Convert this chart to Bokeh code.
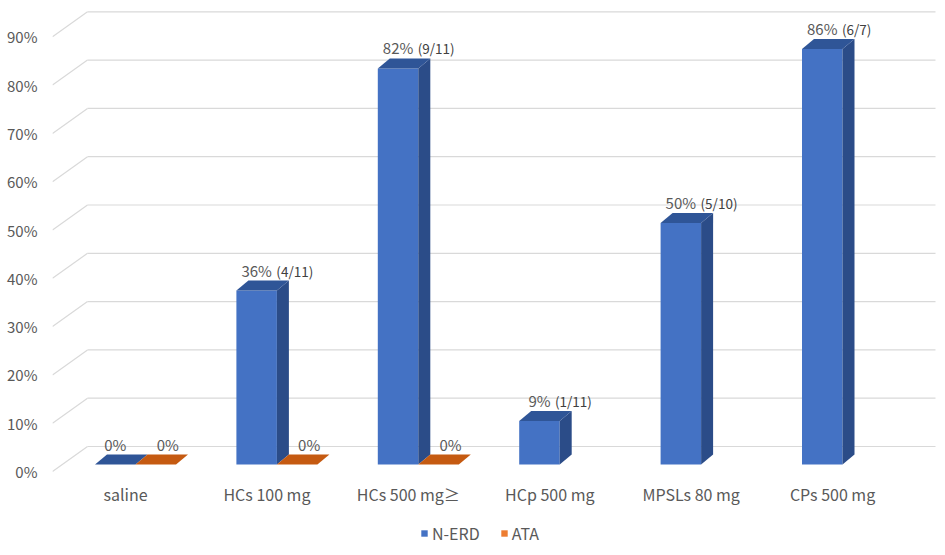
from bokeh.plotting import figure
from bokeh.models import (ColumnDataSource, FixedTicker, NumeralTickFormatter,
                          Legend, LegendItem, Range1d)
from bokeh.core.properties import value
from bokeh.embed import file_html
from bokeh.resources import INLINE

# ---------------- data ----------------
categories = ["saline", "HCs 100 mg", "HCs 500 mg≥", "HCp 500 mg", "MPSLs 80 mg", "CPs 500 mg"]
nerd = [0.0, 0.36, 0.82, 0.09, 0.50, 0.86]
ata = [0.0, 0.0, 0.0, None, None, None]
fractions = ["", "(4/11)", "(9/11)", "(1/11)", "(5/10)", "(6/7)"]
y_ticks = [0.0, 0.1, 0.2, 0.3, 0.4, 0.5, 0.6, 0.7, 0.8, 0.9]
series_names = ["N-ERD", "ATA"]

# ---------------- styling / geometry ----------------
FONT = "Noto Sans CJK JP"
TXT = "#595959"
GRID = "#d9d9d9"
BLUE_FRONT, BLUE_SIDE, BLUE_TOP = "#4472C4", "#2B4C88", "#2F5597"
ORG_FRONT, ORG_SIDE, ORG_TOP = "#ED7D31", "#A84C0E", "#C55A11"

W, H = 945, 555
B_LEFT, B_RIGHT, B_TOP = 52, 8, 8
PX_X = 141.4          # pixels per category
PX_Y = 483.0          # pixels per 100 %
FRAME_W, FRAME_H = W - B_LEFT - B_RIGHT, H - B_TOP
ZERO_FROM_BOTTOM = 84  # px between frame bottom and the 0 % front line
BW = 40.5 / PX_X      # bar width
DDX, DDY = 12 / PX_X, 10 / PX_Y     # bar depth (oblique)
FDX, FDY = 35 / PX_X, 25 / PX_Y     # wall depth (oblique)
F0 = 7 / PX_Y         # bar front plane above front axis plane
X_START = -83 / PX_X
X_END = X_START + FRAME_W / PX_X
Y_START = -ZERO_FROM_BOTTOM / PX_Y
Y_END = Y_START + FRAME_H / PX_Y
WALL_RIGHT = X_START + 883 / PX_X
LABEL_SHIFT = -0.0703125
CAT_Y = -22 / PX_Y

p = figure(width=W, height=H, output_backend="svg", toolbar_location=None,
           x_range=Range1d(X_START, X_END), y_range=Range1d(Y_START, Y_END),
           min_border=0, min_border_left=B_LEFT, min_border_top=B_TOP,
           min_border_right=B_RIGHT, min_border_bottom=0, outline_line_color=None)
p.xgrid.visible = False
p.ygrid.visible = False
p.xaxis.visible = False

# ---------------- walls / gridlines ----------------
p.segment(x0=[X_START + FDX] * len(y_ticks), y0=[t + FDY for t in y_ticks],
          x1=[WALL_RIGHT] * len(y_ticks), y1=[t + FDY for t in y_ticks],
          line_color=GRID, line_width=1.2)
p.segment(x0=[X_START] * len(y_ticks), y0=y_ticks,
          x1=[X_START + FDX] * len(y_ticks), y1=[t + FDY for t in y_ticks],
          line_color=GRID, line_width=1.2)

# ---------------- 3D bars ----------------
def bar_parts(vals, s):
    fronts = dict(l=[], r=[], b=[], t=[])
    sx, sy, tx, ty = [], [], [], []
    for i, v in enumerate(vals):
        if v is None:
            continue
        xl = i - BW + s * BW
        xr = xl + BW
        b, t = F0, F0 + v
        fronts["l"].append(xl); fronts["r"].append(xr)
        fronts["b"].append(b); fronts["t"].append(t)
        sx.append([xr, xr + DDX, xr + DDX, xr]); sy.append([b, b + DDY, t + DDY, t])
        tx.append([xl, xr, xr + DDX, xl + DDX]); ty.append([t, t, t + DDY, t + DDY])
    return fronts, sx, sy, tx, ty

front_renderers = []
for s, (vals, cf, cs, ct) in enumerate([(nerd, BLUE_FRONT, BLUE_SIDE, BLUE_TOP),
                                        (ata, ORG_FRONT, ORG_SIDE, ORG_TOP)]):
    fr, sx, sy, tx, ty = bar_parts(vals, s)
    rf = p.quad(left=fr["l"], right=fr["r"], bottom=fr["b"], top=fr["t"],
                fill_color=cf, line_color=None)
    front_renderers.append(rf)
    p.patches(xs=sx, ys=sy, fill_color=cs, line_color=None)
    p.patches(xs=tx, ys=ty, fill_color=ct, line_color=None)

# ---------------- data labels ----------------
pct_n = [f"{round(v * 100)}%" for v in nerd]
lab_src = ColumnDataSource(dict(
    x=[i - BW / 2 for i in range(len(nerd))],
    y=[F0 + v + DDY for v in nerd],
    pct=pct_n, frac=fractions,
    xo=[((len(t) - 1) * 8.3 + 12.8) / 2 + 5 for t in pct_n]))
p.text(x="x", y="y", text="pct", source=lab_src, text_align="center",
       text_baseline="bottom", text_font=value(FONT), text_font_size="15px",
       text_color=TXT)
p.text(x="x", y="y", text="frac", source=lab_src, x_offset="xo", text_align="left",
       text_baseline="bottom", text_font=value(FONT), text_font_size="13.5px",
       text_color="#404040")

ata_idx = [i for i, v in enumerate(ata) if v is not None]
ata_src = ColumnDataSource(dict(
    x=[i + BW / 2 for i in ata_idx],
    y=[F0 + ata[i] + DDY for i in ata_idx],
    pct=[f"{round(ata[i] * 100)}%" for i in ata_idx]))
p.text(x="x", y="y", text="pct", source=ata_src, x_offset=12, text_align="center",
       text_baseline="bottom", text_font=value(FONT), text_font_size="15px",
       text_color=TXT)

# ---------------- category labels ----------------
cat_src = ColumnDataSource(dict(x=[i + LABEL_SHIFT for i in range(len(categories))],
                                y=[CAT_Y] * len(categories), t=categories))
p.text(x="x", y="y", text="t", source=cat_src, text_align="center",
       text_baseline="middle", text_font=value(FONT), text_font_size="16px",
       text_color=TXT)

# ---------------- y axis ----------------
ya = p.yaxis[0]
ya.ticker = FixedTicker(ticks=y_ticks)
ya.formatter = NumeralTickFormatter(format="0%")
ya.axis_line_color = None
ya.major_tick_line_color = None
ya.minor_tick_line_color = None
ya.major_tick_out = 0
ya.major_label_standoff = 15
ya.major_label_text_font = FONT
ya.major_label_text_font_size = "15px"
ya.major_label_text_color = TXT

# ---------------- legend ----------------
legend = Legend(items=[LegendItem(label=series_names[0], renderers=[front_renderers[0]]),
                       LegendItem(label=series_names[1], renderers=[front_renderers[1]])],
                orientation="horizontal", location=(368, 10), glyph_width=8,
                glyph_height=8, label_standoff=4, spacing=20, padding=0, margin=0,
                border_line_color=None, background_fill_alpha=0,
                label_text_font=FONT, label_text_font_size="16px",
                label_text_color=TXT, label_height=16)
p.add_layout(legend, "center")

open("out.html", "w").write(file_html(p, INLINE))
